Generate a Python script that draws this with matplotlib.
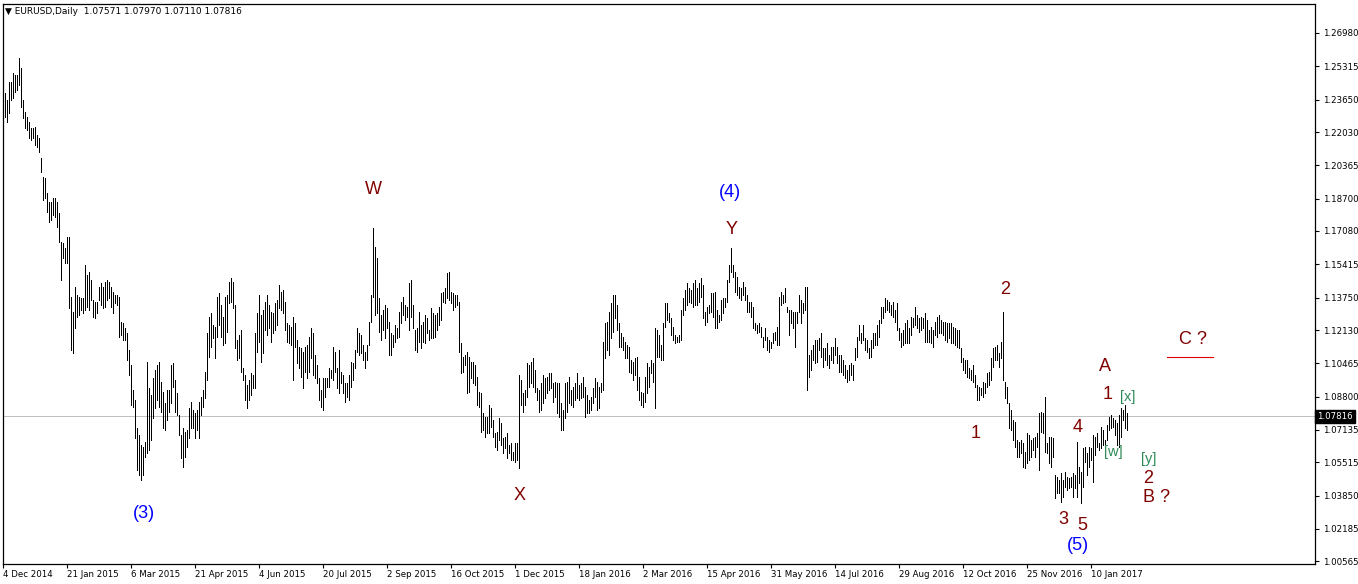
import matplotlib
matplotlib.use("Agg")
import matplotlib.pyplot as plt
from matplotlib.collections import LineCollection
from matplotlib.transforms import blended_transform_factory

# ---------------- data ----------------
header_text = "\u25BC EURUSD,Daily  1.07571 1.07970 1.07110 1.07816"
last_price = 1.07816

date_labels = ["4 Dec 2014", "21 Jan 2015", "6 Mar 2015", "21 Apr 2015", "4 Jun 2015",
               "20 Jul 2015", "2 Sep 2015", "16 Oct 2015", "1 Dec 2015", "18 Jan 2016",
               "2 Mar 2016", "15 Apr 2016", "31 May 2016", "14 Jul 2016", "29 Aug 2016",
               "12 Oct 2016", "25 Nov 2016", "10 Jan 2017"]
date_label_step = 32  # bars between date labels

price_labels = ["1.26980", "1.25315", "1.23650", "1.22030", "1.20365", "1.18700",
                "1.17080", "1.15415", "1.13750", "1.12130", "1.10465", "1.08800",
                "1.07135", "1.05515", "1.03850", "1.02185", "1.00565"]

high_a = [1.2463,1.2396,1.2363,1.2455,1.2455,1.2496,1.2488,1.2488,1.2571,1.2521,
          1.2363,1.2305,1.2280,1.2255,1.2221,1.2221,1.2230,1.2188,1.2171,1.2071,
          1.1980,1.1971,1.1896,1.1855,1.1855,1.1871,1.1871,1.1855,1.1796,1.1655,
          1.1646,1.1621,1.1680,1.1680,1.1380,1.1305,1.1430,1.1388,1.1380,1.1371,
          1.1371,1.1538,1.1488,1.1505,1.1463,1.1363,1.1355,1.1355,1.1430,1.1446,
          1.1430,1.1455,1.1463,1.1455,1.1430,1.1405,1.1388,1.1388,1.1380,1.1255,
          1.1246,1.1221,1.1196,1.1113,1.1038,1.0913,1.0863,1.0721,1.0688,1.0638,
          1.0630,1.0655,1.1055,1.0921,1.0888,1.0971,1.1013,1.1038,1.1055,1.0955,
          1.0905,1.0846,1.0913,1.0913,1.1038,1.1046,1.0963,1.0896,1.0788,1.0688,
          1.0721,1.0705,1.0713,1.0821,1.0855,1.0813,1.0796,1.0813,1.0855,1.0880,
          1.0913,1.1005,1.1196,1.1280,1.1296,1.1238,1.1230,1.1380,1.1396,1.1338,
          1.1280,1.1380,1.1388,1.1455]
low_a = [1.2288,1.2280,1.2255,1.2296,1.2363,1.2371,1.2405,1.2413,1.2438,1.2330,
         1.2271,1.2221,1.2213,1.2171,1.2163,1.2171,1.2138,1.2130,1.2105,1.2005,
         1.1863,1.1871,1.1805,1.1755,1.1763,1.1788,1.1780,1.1730,1.1655,1.1463,
         1.1571,1.1546,1.1546,1.1321,1.1113,1.1096,1.1221,1.1280,1.1288,1.1313,
         1.1296,1.1313,1.1330,1.1313,1.1363,1.1280,1.1271,1.1296,1.1363,1.1338,
         1.1321,1.1330,1.1363,1.1371,1.1330,1.1296,1.1346,1.1338,1.1180,1.1188,
         1.1163,1.1163,1.1063,1.0988,1.0838,1.0830,1.0671,1.0513,1.0488,1.0463,
         1.0488,1.0580,1.0596,1.0613,1.0663,1.0771,1.0821,1.0863,1.0830,1.0805,
         1.0721,1.0713,1.0763,1.0805,1.0846,1.0930,1.0805,1.0788,1.0688,1.0571,
         1.0530,1.0580,1.0630,1.0671,1.0721,1.0721,1.0671,1.0713,1.0671,1.0788,
         1.0830,1.0871,1.0963,1.1080,1.1130,1.1171,1.1071,1.1180,1.1238,1.1180,
         1.1138,1.1146,1.1205,1.1346]

high_b = [1.1471,1.1455,1.1338,1.1163,1.1188,1.1213,1.1021,1.0988,1.0938,1.0963,
          1.0996,1.0988,1.1196,1.1296,1.1388,1.1288,1.1313,1.1355,1.1388,1.1338,
          1.1305,1.1296,1.1346,1.1363,1.1438,1.1405,1.1413,1.1355,1.1246,1.1238,
          1.1230,1.1280,1.1246,1.1163,1.1130,1.1121,1.1105,1.1130,1.1138,1.1180,
          1.1221,1.1196,1.1088,1.1038,1.0971,1.0913,1.0971,1.0971,1.0971,1.1021,
          1.1013,1.1130,1.1105,1.1021,1.1113,1.1005,1.0988,1.0946,1.0946,1.0988,
          1.1055,1.1046,1.1113,1.1221,1.1196,1.1188,1.1138,1.1105,1.1138,1.1255,
          1.1388,1.1721,1.1630,1.1571,1.1371,1.1288,1.1313,1.1338,1.1321,1.1255,
          1.1196,1.1188,1.1238,1.1221,1.1305,1.1355,1.1380,1.1338,1.1330,1.1446,
          1.1463,1.1338,1.1213,1.1221,1.1305,1.1238,1.1255,1.1288,1.1271,1.1213,
          1.1321,1.1296,1.1288,1.1296,1.1330,1.1396,1.1405,1.1421,1.1496,1.1505,
          1.1405,1.1396,1.1388,1.1388,1.1355]
low_b = [1.1355,1.1321,1.1121,1.1063,1.1071,1.1005,1.0963,1.0863,1.0821,1.0863,
         1.0888,1.0921,1.0921,1.1105,1.1155,1.1055,1.1096,1.1213,1.1188,1.1221,
         1.1155,1.1196,1.1213,1.1238,1.1321,1.1313,1.1296,1.1213,1.1155,1.1146,
         1.1138,1.0963,1.1130,1.1046,1.1021,1.0980,1.0921,1.1005,1.0971,1.1005,
         1.1071,1.0988,1.0971,1.0946,1.0863,1.0830,1.0813,1.0880,1.0930,1.0930,
         1.0971,1.0963,1.1005,1.0921,1.0896,1.0946,1.0896,1.0855,1.0880,1.0863,
         1.0930,1.0963,1.1021,1.1105,1.1088,1.1096,1.1063,1.1021,1.1063,1.1138,
         1.1255,1.1380,1.1288,1.1296,1.1205,1.1163,1.1213,1.1171,1.1221,1.1088,
         1.1088,1.1130,1.1155,1.1171,1.1180,1.1246,1.1288,1.1263,1.1280,1.1213,
         1.1280,1.1221,1.1113,1.1105,1.1155,1.1121,1.1155,1.1146,1.1196,1.1163,
         1.1171,1.1171,1.1180,1.1213,1.1238,1.1263,1.1355,1.1346,1.1371,1.1363,
         1.1346,1.1313,1.1330,1.1338,1.1105]

high_c = [1.1146,1.1080,1.1088,1.1105,1.1080,1.1055,1.1055,1.1038,1.0980,1.0905,
          1.0896,1.0796,1.0780,1.0780,1.0838,1.0821,1.0763,1.0696,1.0705,1.0771,
          1.0746,1.0671,1.0680,1.0696,1.0638,1.0646,1.0605,1.0646,1.0646,1.0988,
          1.0963,1.0896,1.0913,1.1046,1.1038,1.1055,1.1071,1.1013,1.0921,1.0913,
          1.0946,1.0988,1.0971,1.0980,1.0996,1.0996,1.0946,1.0955,1.0946,1.0946,
          1.0846,1.0813,1.0946,1.0955,1.0980,1.0913,1.0930,1.0946,1.0996,1.0938,
          1.0946,1.0980,1.0930,1.0888,1.0863,1.0880,1.0921,1.0971,1.0955,1.0930,
          1.0946,1.1155,1.1246,1.1255,1.1305,1.1346,1.1388,1.1388,1.1338,1.1246,
          1.1196,1.1180,1.1155,1.1138,1.1130,1.1063,1.1055,1.1071,1.1080,1.0980,
          1.0905,1.0896,1.0980,1.1046,1.1030,1.1063,1.1046,1.1221,1.1213,1.1188,
          1.1138,1.1246,1.1346,1.1346,1.1296,1.1271,1.1230,1.1188,1.1180,1.1188,
          1.1313,1.1371]
low_c = [1.0996,1.1005,1.1038,1.0896,1.0905,1.0971,1.0946,1.0938,1.0838,1.0830,
         1.0705,1.0713,1.0680,1.0696,1.0696,1.0730,1.0680,1.0630,1.0613,1.0663,
         1.0638,1.0596,1.0621,1.0571,1.0596,1.0563,1.0563,1.0555,1.0563,1.0521,
         1.0838,1.0805,1.0838,1.0880,1.0930,1.0946,1.0930,1.0905,1.0863,1.0805,
         1.0813,1.0846,1.0871,1.0896,1.0913,1.0921,1.0855,1.0880,1.0796,1.0780,
         1.0713,1.0713,1.0771,1.0805,1.0846,1.0838,1.0830,1.0863,1.0871,1.0863,
         1.0871,1.0880,1.0780,1.0796,1.0796,1.0813,1.0846,1.0880,1.0813,1.0821,
         1.0905,1.0913,1.1071,1.1113,1.1088,1.1171,1.1205,1.1271,1.1213,1.1130,
         1.1130,1.1113,1.1071,1.1071,1.1005,1.0996,1.0963,1.0988,1.0913,1.0863,
         1.0838,1.0830,1.0855,1.0896,1.0930,1.0996,1.0955,1.0821,1.1080,1.1080,
         1.1063,1.1063,1.1230,1.1263,1.1255,1.1188,1.1163,1.1146,1.1155,1.1155,
         1.1163,1.1288]

high_d = [1.1413,1.1446,1.1421,1.1413,1.1446,1.1463,1.1421,1.1446,1.1471,1.1438,
          1.1305,1.1330,1.1338,1.1396,1.1396,1.1405,1.1313,1.1288,1.1363,1.1371,
          1.1371,1.1463,1.1538,1.1621,1.1538,1.1505,1.1480,1.1430,1.1421,1.1455,
          1.1430,1.1388,1.1355,1.1355,1.1330,1.1246,1.1238,1.1246,1.1230,1.1180,
          1.1221,1.1180,1.1163,1.1155,1.1196,1.1205,1.1230,1.1380,1.1405,1.1388,
          1.1421,1.1330,1.1313,1.1313,1.1305,1.1305,1.1305,1.1388,1.1363,1.1346,
          1.1430,1.1430,1.1088,1.1113,1.1138,1.1163,1.1163,1.1171,1.1196,1.1121,
          1.1121,1.1146,1.1088,1.1130,1.1130,1.1171,1.1130,1.1088,1.1088,1.1063,
          1.1038,1.1013,1.1038,1.1046,1.1038,1.1121,1.1180,1.1238,1.1196,1.1238,
          1.1171,1.1163,1.1121,1.1163,1.1196,1.1196,1.1238,1.1263,1.1330,1.1330,
          1.1371,1.1363,1.1355,1.1338,1.1355,1.1313,1.1346,1.1221]
low_d = [1.1313,1.1338,1.1355,1.1346,1.1330,1.1338,1.1338,1.1355,1.1380,1.1271,
         1.1238,1.1255,1.1296,1.1305,1.1280,1.1221,1.1221,1.1255,1.1263,1.1296,
         1.1330,1.1355,1.1455,1.1505,1.1480,1.1405,1.1388,1.1371,1.1363,1.1388,
         1.1363,1.1305,1.1305,1.1280,1.1221,1.1213,1.1196,1.1205,1.1180,1.1130,
         1.1163,1.1113,1.1105,1.1121,1.1146,1.1163,1.1138,1.1138,1.1338,1.1346,
         1.1355,1.1305,1.1188,1.1246,1.1221,1.1130,1.1246,1.1305,1.1246,1.1296,
         1.1313,1.0913,1.0980,1.1013,1.1063,1.1046,1.1055,1.1113,1.1080,1.1030,
         1.1063,1.1038,1.1021,1.1063,1.1046,1.1088,1.1046,1.1005,1.1005,1.0988,
         1.0971,1.0955,1.0963,1.0988,1.0963,1.1063,1.1080,1.1163,1.1146,1.1163,
         1.1113,1.1105,1.1071,1.1080,1.1121,1.1138,1.1138,1.1180,1.1246,1.1271,
         1.1305,1.1313,1.1305,1.1288,1.1280,1.1255,1.1213,1.1163]

high_e = [1.1196,1.1213,1.1246,1.1263,1.1221,1.1280,1.1271,1.1330,1.1288,1.1271,
          1.1280,1.1271,1.1296,1.1263,1.1213,1.1230,1.1213,1.1255,1.1280,1.1288,
          1.1263,1.1255,1.1255,1.1246,1.1246,1.1246,1.1230,1.1221,1.1213,1.1213,
          1.1121,1.1071,1.1063,1.1063,1.1021,1.1013,1.1038,1.0988,1.0938,1.0930,
          1.0921,1.0955,1.0946,1.0996,1.1005,1.1071,1.1121,1.1130,1.1138,1.1096,
          1.1155,1.1305,1.0955,1.0930,1.0846,1.0813,1.0763,1.0755,1.0663,1.0655,
          1.0663,1.0646,1.0605,1.0696,1.0688,1.0663,1.0671,1.0680,1.0696,1.0796,
          1.0805,1.0796,1.0880,1.0646,1.0680,1.0680,1.0671,1.0488,1.0480,1.0463,
          1.0496,1.0463,1.0505,1.0480,1.0471,1.0480,1.0496,1.0488,1.0655,1.0530,
          1.0505,1.0621,1.0630,1.0596,1.0630,1.0621,1.0688,1.0680,1.0696,1.0646,
          1.0730,1.0713,1.0663,1.0738,1.0780,1.0788,1.0771,1.0763,1.0746,1.0788,
          1.0821,1.0813,1.0838,1.0797]
low_e = [1.1130,1.1138,1.1146,1.1146,1.1146,1.1188,1.1230,1.1238,1.1221,1.1205,
         1.1213,1.1221,1.1155,1.1155,1.1155,1.1146,1.1130,1.1188,1.1180,1.1196,
         1.1196,1.1188,1.1163,1.1155,1.1171,1.1146,1.1146,1.1138,1.1130,1.1121,
         1.1055,1.1013,1.0996,1.0980,1.0971,1.0963,1.0955,1.0930,1.0863,1.0863,
         1.0888,1.0880,1.0896,1.0930,1.0938,1.0963,1.1030,1.1063,1.1063,1.1030,
         1.1071,1.0963,1.0871,1.0846,1.0721,1.0713,1.0663,1.0630,1.0580,1.0580,
         1.0596,1.0530,1.0521,1.0546,1.0563,1.0580,1.0613,1.0580,1.0630,1.0513,
         1.0705,1.0696,1.0605,1.0596,1.0546,1.0530,1.0580,1.0371,1.0396,1.0396,
         1.0355,1.0380,1.0430,1.0413,1.0421,1.0430,1.0380,1.0421,1.0380,1.0446,
         1.0346,1.0430,1.0555,1.0488,1.0530,1.0563,1.0455,1.0588,1.0630,1.0613,
         1.0621,1.0638,1.0613,1.0663,1.0713,1.0721,1.0730,1.0688,1.0638,1.0630,
         1.0680,1.0763,1.0721,1.0711]

highs = high_a + high_b + high_c + high_d + high_e
lows = low_a + low_b + low_c + low_d + low_e

# Elliott wave labels: (text, bar index, price, colour key, size key)
wave_labels = [
    ("W", 185, 1.1913, "maroon", "big"),
    ("X", 258, 1.0388, "maroon", "big"),
    ("Y", 364, 1.1713, "maroon", "big"),
    ("(4)", 363.5, 1.1903, "blue", "big"),
    ("(3)", 70.5, 1.0293, "blue", "big"),
    ("2", 501, 1.1418, "maroon", "big"),
    ("1", 486, 1.0698, "maroon", "big"),
    ("3", 530, 1.0263, "maroon", "big"),
    ("5", 539.5, 1.0233, "maroon", "big"),
    ("(5)", 537.5, 1.0133, "blue", "big"),
    ("4", 537, 1.0728, "maroon", "big"),
    ("1", 552, 1.0893, "maroon", "big"),
    ("A", 551, 1.1031, "maroon", "big"),
    ("[x]", 562, 1.0878, "green", "small"),
    ("[w]", 555, 1.0603, "green", "small"),
    ("[y]", 572.5, 1.0568, "green", "small"),
    ("2", 572.5, 1.0473, "maroon", "big"),
    ("B ?", 576.5, 1.0373, "maroon", "big"),
    ("C ?", 595, 1.1163, "maroon", "big"),
]
target_level = 1.1078
target_span = (582, 605)

colors = {"maroon": "#800000", "blue": "#0000FF", "green": "#2E8B57"}
sizes = {"big": 13, "small": 10.5}

# ---------------- figure ----------------
W, H = 1358, 584
fig = plt.figure(figsize=(W / 100, H / 100), dpi=100)
fig.patch.set_facecolor("white")
ax_left, ax_right, ax_top, ax_bottom = 2.5, 1315, 4, 564
ax = fig.add_axes([ax_left / W, (H - ax_bottom) / H,
                   (ax_right - ax_left) / W, (ax_bottom - ax_top) / H])
ax.set_facecolor("white")

n = len(highs)
idx = list(range(n))
segs = [[(i, lo), (i, hi)] for i, lo, hi in zip(idx, lows, highs)]
lc = LineCollection(segs, colors="black", linewidths=0.72, antialiased=False)
ax.add_collection(lc)

ax.set_xlim(-0.4, 655.85)
ax.set_ylim(1.0043, 1.2843)

# current price line
ax.axhline(last_price, color="#C0C0C0", lw=0.72, zorder=0)

# spines
for s in ax.spines.values():
    s.set_linewidth(0.9)
    s.set_color("black")

# x ticks
xt = [date_label_step * k for k in range(len(date_labels))]
ax.set_xticks(xt)
ax.set_xticklabels(date_labels)
ax.tick_params(axis="x", direction="out", length=3, width=0.8, pad=1.5,
               labelsize=6.2, colors="black")
for lbl in ax.get_xticklabels():
    lbl.set_ha("left")
    lbl.set_fontfamily("DejaVu Sans")

# y ticks on right
ax.yaxis.tick_right()
ax.set_yticks([float(v) for v in price_labels])
ax.set_yticklabels(price_labels)
ax.tick_params(axis="y", direction="out", length=3, width=0.8, pad=2.5,
               labelsize=6.2, colors="black", left=False, right=True)
for lbl in ax.get_yticklabels():
    lbl.set_fontfamily("DejaVu Sans")

# current price tag
trans = blended_transform_factory(ax.transAxes, ax.transData)
ax.text(1.0015, last_price, format(last_price, ".5f"), transform=trans,
        color="white", fontsize=6.2, va="center", ha="left",
        family="DejaVu Sans",
        bbox=dict(boxstyle="square,pad=0.25", fc="black", ec="black"),
        clip_on=False, zorder=10)

# header
fig.text(5 / W, 1 - 11 / H, header_text, fontsize=6.5, va="center", ha="left",
         family="DejaVu Sans", color="black")

# wave labels
for txt, xi, yp, ck, sk in wave_labels:
    ax.text(xi, yp, txt, color=colors[ck], fontsize=sizes[sk], ha="center",
            va="center", family="Liberation Sans")

ax.plot(target_span, [target_level, target_level], color="#E00000", lw=0.8)

fig.savefig("out.png", dpi=100, facecolor="white")
